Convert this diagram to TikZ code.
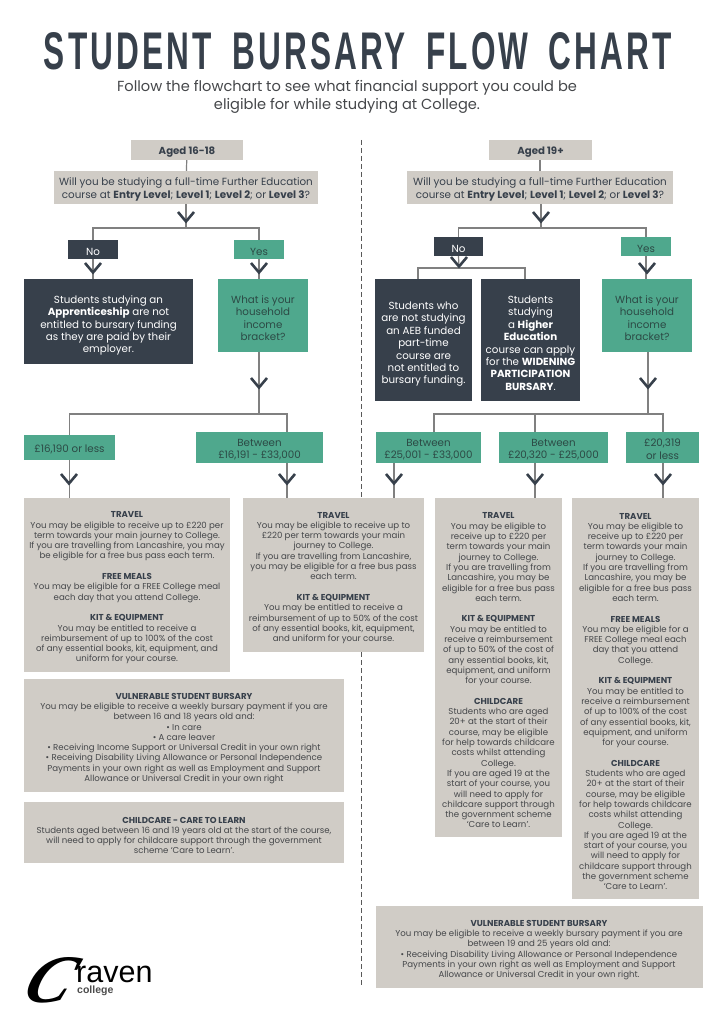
\documentclass[tikz,border=0pt]{standalone}
\usepackage{fontspec}
\setmainfont{Poppins}
\newfontfamily\titlefont[LetterSpace=10,WordSpace=1.7]{Liberation Sans}
\newfontfamily\logofont{Liberation Sans}
\newfontfamily\swashfont{Liberation Serif}
\definecolor{slate}{HTML}{37404B}
\definecolor{teal}{HTML}{4FA88D}
\definecolor{stone}{HTML}{D0CCC6}
\definecolor{tealink}{HTML}{2C4A45}
\definecolor{bodyink}{HTML}{45474A}
\newcommand{\fs}[2]{\fontsize{#1}{#2}\selectfont}
\newcommand{\nudge}[1]{\rule{0pt}{#1}}
\newcommand{\headline}[1]{\textbf{\textcolor{slate}{#1}}}
\begin{document}
\begin{tikzpicture}[x=1pt,y=-1pt]
        \tikzset{
            stonebox/.style={fill=stone,text=slate,align=center,inner sep=0pt,font=\fs{10.35}{12.6}},
            slatebox/.style={fill=slate,text=white,align=center,inner sep=0pt,font=\fs{10.3}{12.4}},
            tealbox/.style={fill=teal,text=tealink,align=center,inner sep=0pt,font=\fs{10.3}{12.4}},
            info/.style={fill=stone,text=bodyink,align=center,inner sep=0pt,font=\fs{8.6}{10.3}},
            link/.style={draw=black!50,line width=1.2pt},
            chev/.pic={\draw[slate,line width=2.6pt] (-8,-5) -- (0,4.5) -- (8,-5);}
          }

        \useasboundingbox (0,0) rectangle (724,1024);

        % dashed divide between the two age groups
        \coordinate (divtop) at (361,140);
        \coordinate (divbot) at (361,987);
        \draw[black!65,line width=.9pt,dash pattern=on 5pt off 3pt] (divtop) -- (divbot);

        \node (title) at (358,51.5) {\resizebox{628pt}{37pt}{\titlefont\bfseries\textcolor{slate}{STUDENT BURSARY FLOW CHART}}};
        \node[align=center,text=bodyink,font=\fs{14.6}{17.5}] (intro) at (347,97) {Follow the flowchart to see what financial support you could be\\eligible for while studying at College.};

        % 16-18 side
        \node[stonebox,font=\fs{10.2}{12}\bfseries,minimum width=112pt,minimum height=20pt] (agedL) at (187,150) {\nudge{11.5pt}Aged 16-18};
        \node[stonebox,minimum width=264pt,minimum height=33pt] (askL) at (186,187.5) {\nudge{11.5pt}Will you be studying a full-time Further Education\\course at \textbf{Entry Level}; \textbf{Level 1}; \textbf{Level 2}; or \textbf{Level 3}?};
        \node[slatebox,minimum width=50pt,minimum height=19pt] (noL) at (93,249.5) {\nudge{12pt}No};
        \node[tealbox,minimum width=50pt,minimum height=19pt] (yesL) at (259,249.5) {\nudge{12pt}Yes};
        \node[slatebox,minimum width=169pt,minimum height=85pt] (appr) at (108.5,321.5) {\nudge{16pt}Students studying an\\\textbf{Apprenticeship} are not\\entitled to bursary funding\\as they are paid by their\\employer.};
        \node[tealbox,minimum width=90pt,minimum height=73pt] (incomeL) at (263,315.5) {\nudge{13pt}What is your\\household\\income\\bracket?};
        \node[tealbox,minimum width=91pt,minimum height=25pt] (bandA) at (69.5,447.5) {\nudge{12pt}£16,190 or less};
        \node[tealbox,minimum width=127pt,minimum height=31pt] (bandB) at (259.5,447.5) {\nudge{11pt}Between\\£16,191 - £33,000};

        % 19+ side
        \node[stonebox,font=\fs{10.2}{12}\bfseries,minimum width=103pt,minimum height=20pt] (agedR) at (540.5,150) {\nudge{11.5pt}Aged 19+};
        \node[stonebox,minimum width=266pt,minimum height=33pt] (askR) at (540,187.5) {\nudge{11.5pt}Will you be studying a full-time Further Education\\course at \textbf{Entry Level}; \textbf{Level 1}; \textbf{Level 2}; or \textbf{Level 3}?};
        \node[slatebox,minimum width=49pt,minimum height=19pt] (noR) at (458.5,246.5) {\nudge{12pt}No};
        \node[tealbox,minimum width=50pt,minimum height=19pt] (yesR) at (646,246.5) {\nudge{12pt}Yes};
        \node[slatebox,minimum width=97pt,minimum height=122pt] (aeb) at (423.5,340) {\nudge{16pt}Students who\\are not studying\\an AEB funded\\part-time\\course are\\not entitled to\\bursary funding.};
        \node[slatebox,minimum width=99pt,minimum height=122pt] (higher) at (530.5,340) {\nudge{14pt}Students\\studying\\a \textbf{Higher}\\\textbf{Education}\\course can apply\\for the \textbf{WIDENING}\\\textbf{PARTICIPATION}\\\textbf{BURSARY}.};
        \node[tealbox,minimum width=90pt,minimum height=73pt] (incomeR) at (647,315.5) {\nudge{13pt}What is your\\household\\income\\bracket?};
        \node[tealbox,minimum width=105pt,minimum height=31pt] (bandC) at (428.5,447.5) {\nudge{11pt}Between\\£25,001 - £33,000};
        \node[tealbox,minimum width=109pt,minimum height=31pt] (bandD) at (553.5,447.5) {\nudge{11pt}Between\\£20,320 - £25,000};
        \node[tealbox,minimum width=73pt,minimum height=31pt] (bandE) at (662.5,447.5) {\nudge{11pt}£20,319\\or less};

        % what each bracket can claim
        \node[info,minimum width=206pt,minimum height=174pt] (supportA) at (127,585) {\nudge{12pt}\headline{TRAVEL}\\You may be eligible to receive up to £220 per\\term towards your main journey to College.\\If you are travelling from Lancashire, you may\\be eligible for a free bus pass each term.\\[10.3pt]
            \headline{FREE MEALS}\\You may be eligible for a FREE College meal\\each day that you attend College.\\[10.3pt]
            \headline{KIT \& EQUIPMENT}\\You may be entitled to receive a\\reimbursement of up to 100\% of the cost\\of any essential books, kit, equipment, and\\uniform for your course.};
        \node[info,minimum width=181pt,minimum height=154pt] (supportB) at (333.5,575) {\nudge{12pt}\headline{TRAVEL}\\You may be eligible to receive up to\\£220 per term towards your main\\journey to College.\\If you are travelling from Lancashire,\\you may be eligible for a free bus pass\\each term.\\[10.3pt]
            \headline{KIT \& EQUIPMENT}\\You may be entitled to receive a\\reimbursement of up to 50\% of the cost\\of any essential books, kit, equipment,\\and uniform for your course.};
        \node[info,minimum width=127pt,minimum height=339pt] (supportC) at (498.5,667.5) {\nudge{12pt}\headline{TRAVEL}\\You may be eligible to\\receive up to £220 per\\term towards your main\\journey to College.\\If you are travelling from\\Lancashire, you may be\\eligible for a free bus pass\\each term.\\[10.3pt]
            \headline{KIT \& EQUIPMENT}\\You may be entitled to\\receive a reimbursement\\of up to 50\% of the cost of\\any essential books, kit,\\equipment, and uniform\\for your course.\\[10.3pt]
            \headline{CHILDCARE}\\Students who are aged\\20+ at the start of their\\course, may be eligible\\for help towards childcare\\costs whilst attending\\College.\\If you are aged 19 at the\\start of your course, you\\will need to apply for\\childcare support through\\the government scheme\\‘Care to Learn’.};
        \node[info,minimum width=127pt,minimum height=401pt] (supportD) at (635.5,698.5) {\nudge{12pt}\headline{TRAVEL}\\You may be eligible to\\receive up to £220 per\\term towards your main\\journey to College.\\If you are travelling from\\Lancashire, you may be\\eligible for a free bus pass\\each term.\\[10.3pt]
            \headline{FREE MEALS}\\You may be eligible for a\\FREE College meal each\\day that you attend\\College.\\[10.3pt]
            \headline{KIT \& EQUIPMENT}\\You may be entitled to\\receive a reimbursement\\of up to 100\% of the cost\\of any essential books, kit,\\equipment, and uniform\\for your course.\\[10.3pt]
            \headline{CHILDCARE}\\Students who are aged\\20+ at the start of their\\course, may be eligible\\for help towards childcare\\costs whilst attending\\College.\\If you are aged 19 at the\\start of your course, you\\will need to apply for\\childcare support through\\the government scheme\\‘Care to Learn’.};
        \node[info,minimum width=320pt,minimum height=113pt] (vulnL) at (184,735.5) {\nudge{12pt}\headline{VULNERABLE STUDENT BURSARY}\\You may be eligible to receive a weekly bursary payment if you are\\between 16 and 18 years old and:\\• In care\\• A care leaver\\• Receiving Income Support or Universal Credit in your own right\\• Receiving Disability Living Allowance or Personal Independence\\Payments in your own right as well as Employment and Support\\Allowance or Universal Credit in your own right};
        \node[info,minimum width=320pt,minimum height=61pt] (careL) at (184,832.5) {\nudge{12pt}\headline{CHILDCARE - CARE TO LEARN}\\Students aged between 16 and 19 years old at the start of the course,\\will need to apply for childcare support through the government\\scheme ‘Care to Learn’.};
        \node[info,minimum width=327pt,minimum height=82pt] (vulnR) at (539,947) {\nudge{12pt}\headline{VULNERABLE STUDENT BURSARY}\\You may be eligible to receive a weekly bursary payment if you are\\between 19 and 25 years old and:\\• Receiving Disability Living Allowance or Personal Independence\\Payments in your own right as well as Employment and Support\\Allowance or Universal Credit in your own right.};

        % join points of the branches
        \coordinate (forkL) at (186,228);
        \coordinate (forkR) at (541,228);
        \coordinate (forkNo) at (459,268);
        \coordinate (forkIncL) at (259,414);
        \coordinate (forkIncR) at (648,414);
        \coordinate (dropB) at (287,498);
        \coordinate (dropC) at (394,498);
        \coordinate (dropD) at (535,498);

        \draw[link] (agedL) -- (askL);
        \draw[link] (agedR.south -| askR) -- (askR);
        \draw[link] (askL) -- (forkL);
        \draw[link] (askR.south -| forkR) -- (forkR);
        \draw[link] (noL) |- (forkL);
        \draw[link] (yesL) |- (forkL);
        \draw[link] (noR) |- (forkR);
        \draw[link] (yesR) |- (forkR);
        \draw[link] (noL) -- (noL.south |- appr.north);
        \draw[link] (yesL) -- (yesL.south |- incomeL.north);
        \draw[link] (yesR) -- (yesR.south |- incomeR.north);
        \draw[link] (noR.south) -- (forkNo);
        \draw[link] (418,279) |- (forkNo) -| (525,279);

        \draw[link] (forkIncL |- incomeL.south) -- (forkIncL);
        \draw[link] (bandA.north) |- (forkIncL);
        \draw[link] (dropB |- bandB.north) |- (forkIncL);
        \draw[link] (forkIncR |- incomeR.south) -- (forkIncR);
        \draw[link] (434,432) |- (forkIncR);
        \draw[link] (535,432) -- (535,414);
        \draw[link] (663,432) |- (forkIncR);

        \draw[link] (bandA.south) -- (bandA.south |- supportA.north);
        \draw[link] (dropB |- bandB.south) -- (dropB);
        \draw[link] (dropC |- bandC.south) -- (dropC);
        \draw[link] (dropD |- bandD.south) -- (dropD);
        \draw[link] (663,463) -- (663,498);

        \foreach \x/\y in {186/217,541/217,93/268,259/268,459/262,647/268,259/383,648/383,69/479,287/479,394/479,535/479,663/479}
          \pic at (\x,\y) {chev};

        % logo
        \node[anchor=base west,inner sep=0pt,font=\fs{68}{68}\swashfont\itshape\bfseries,xslant=.4] (logoC) at (20,1002) {C};
        \node[anchor=base west,inner sep=0pt,font=\fs{30.5}{32}\logofont] (logoname) at (76,982) {raven};
        \node[anchor=base west,inner sep=0pt,text=black!70,font=\fs{10.5}{11}\logofont\bfseries] (logocollege) at (77,993) {college};
    \end{tikzpicture}
\end{document}
